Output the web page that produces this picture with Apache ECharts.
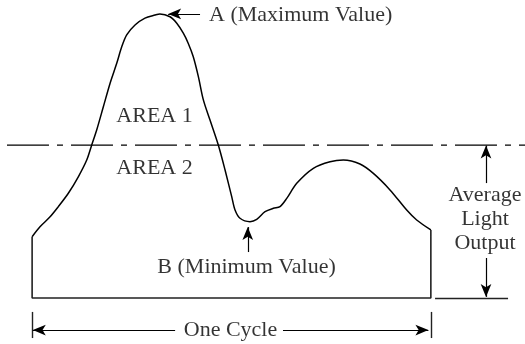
<!DOCTYPE html>
<html lang="en">
<head>
    <meta charset="utf-8">
    <script src="https://cdn.jsdelivr.net/npm/echarts@6/dist/echarts.min.js"></script>
    <style>
        html, body {
            margin: 0;
            padding: 0;
            background: #fff;
        }
        #flicker {
            width: 525px;
            height: 344px;
        }
    </style>
</head>
<body>
<div id="flicker"></div>

<script>
    // one cycle of light output, x in degrees of the cycle, y in % of the maximum
    var cycleDeg = [0, 7.1, 16.2, 23.7, 32.7, 41.7, 49.3, 53.8, 58.3, 64.3, 70.4, 76.4, 80.9, 85.4, 92.9, 101.9, 110.9, 115.4,
        124.5, 130.6, 136.5, 141, 145.5, 150.1, 154.6, 160.6, 168.1, 174.2, 180.2, 183.2, 187.7, 196.7, 202.8, 210.3, 217.8,
        223.8, 229.9, 238.9, 253.9, 269, 281, 296, 308.1, 323.1, 338.2, 347.2, 360];
    var lightOutput = [21.6, 25.1, 28.6, 32.2, 36.9, 42.7, 48.6, 53.9, 59.2, 67.4, 75.7, 82.7, 88.5, 92.7, 96.2, 98.6, 99.7, 100.1,
        99.1, 96.8, 93.3, 89.7, 85, 78, 69.8, 62.7, 53.9, 45.1, 35.7, 31, 28.1, 26.9, 27.7, 30.4, 31.6,
        32.2, 35.1, 40.4, 45.7, 48, 48.6, 47.2, 43.9, 38.1, 31, 27.5, 24];
    var averageLevel = 53.9;

    // annotation arrows (tail -> tip) and labels, in the same units
    var arrowFrom = [[151.6, 100.1], [194.7, 16.2], [409.8, 40.5], [409.8, 14.1], [129.1, -11.3], [226.5, -11.3]];
    var arrowTo = [[122.8, 100.1], [194.7, 25], [409.8, 53.7], [409.8, 0.4], [0.6, -11.3], [357.8, -11.3]];
    var labelText = ['A (Maximum Value)', 'AREA 1', 'AREA 2', 'B (Minimum Value)', 'Average\nLight\nOutput', 'One Cycle'];
    var labelAt = [[159.7, 99.7], [110.5, 64.1], [110.5, 45.6], [193.6, 10.9], [408.9, 27.7], [179.1, -11.3]];
    var cycleTicks = [[[0, -4.9], [0, -14.1]], [[360, -4.9], [360, -14.1]]];
    var stubFrom = 363.8, stubTo = 429.7;

    var myChart = echarts.init(document.getElementById('flicker'));

    var curveData = cycleDeg.map(function (d, i) { return [d, lightOutput[i]]; });
    var last = cycleDeg.length - 1;
    var frameData = [[0, lightOutput[0]], [0, 0], [cycleDeg[last], 0], [cycleDeg[last], lightOutput[last]]];

    var arrowLines = arrowFrom.map(function (p, i) {
        return [{coord: p}, {coord: arrowTo[i]}];
    });
    var plainLines = cycleTicks.map(function (t) {
        return [{coord: t[0]}, {coord: t[1]}];
    });
    plainLines.push([{coord: [stubFrom, 0]}, {coord: [stubTo, 0]}]);

    var labelData = labelText.map(function (t, i) {
        // first label hangs off to the right of its arrow
        return {
            value: labelAt[i],
            label: {
                formatter: t,
                position: i === 0 ? 'right' : 'inside',
                align: i === 0 ? 'left' : 'center',
                distance: 0
            }
        };
    });

    var option = {
        animation: false,
        grid: {left: 0, right: 0, top: 0, bottom: 0},
        xAxis: {type: 'value', min: -29, max: 445, show: false},
        yAxis: {type: 'value', min: -16.2, max: 105, show: false},
        series: [
            {
                name: 'light',
                type: 'line',
                smooth: 0.3,
                showSymbol: false,
                data: curveData,
                lineStyle: {color: '#000', width: 1.5}
            },
            {
                name: 'frame',
                type: 'line',
                showSymbol: false,
                data: frameData,
                lineStyle: {color: '#222', width: 1.6}
            },
            {
                name: 'average',
                type: 'line',
                showSymbol: false,
                data: [[-22.7, averageLevel], [445, averageLevel]],
                lineStyle: {color: '#000', width: 1.3, type: [42, 8, 6, 8]}
            },
            {
                name: 'marks',
                type: 'line',
                data: [],
                markLine: {
                    silent: true,
                    symbol: ['none', 'none'],
                    label: {show: false},
                    lineStyle: {color: '#222', width: 1.4, type: 'solid'},
                    data: plainLines
                }
            },
            {
                name: 'arrows',
                type: 'line',
                data: [],
                markLine: {
                    silent: true,
                    symbol: ['none', 'arrow'],
                    symbolSize: [8, 13],
                    label: {show: false},
                    lineStyle: {color: '#000', width: 1.2, type: 'solid'},
                    data: arrowLines
                }
            },
            {
                name: 'labels',
                type: 'scatter',
                symbolSize: 0,
                silent: true,
                data: labelData,
                label: {
                    show: true,
                    color: '#000',
                    fontFamily: 'Liberation Serif',
                    fontSize: 22,
                    lineHeight: 24
                }
            }
        ]
    };

    myChart.setOption(option);
</script>
</body>
</html>
